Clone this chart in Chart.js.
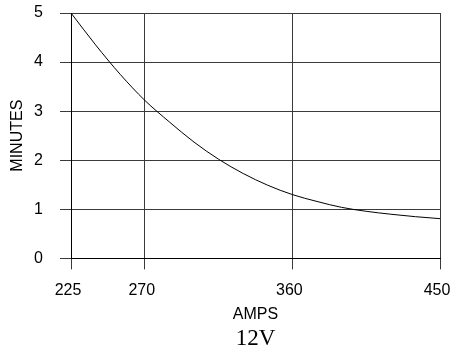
<!DOCTYPE html>
<html>
<head>
<meta charset="utf-8">
<script src="https://cdn.jsdelivr.net/npm/chart.js@4"></script>
<style>
html,body{margin:0;padding:0;background:#fff}
</style>
</head>
<body>
<canvas id="chart" width="452" height="356"></canvas>
<script>
// data
const amps=[225,240,255,270,285,300,315,330,345,360,375,390,405,420,435,450];
const minutes=[5.0,4.35,3.75,3.22,2.78,2.37,2.02,1.73,1.49,1.30,1.16,1.04,0.96,0.90,0.85,0.81];
const xTicks=[225,270,360,450];
const yTicks=[0,1,2,3,4,5];

const sans="'Liberation Sans', Arial, sans-serif";
const gridColor="#3a3a3a";

new Chart(document.getElementById("chart"),{
type:"line",
data:{
datasets:[{
data:amps.map((a,i)=>({x:a,y:minutes[i]})),
borderColor:"#000",
borderWidth:1,
pointRadius:0,
fill:false,
cubicInterpolationMode:"monotone"
}]
},
options:{
responsive:false,
animation:false,
layout:{padding:{top:13,right:12,left:0,bottom:0}},
plugins:{
legend:{display:false},
tooltip:{enabled:false},
title:{
display:true,
position:"bottom",
fullSize:false,
text:"12V",
color:"#000",
font:{family:"'Liberation Serif', 'Times New Roman', serif",size:23,weight:"normal"},
padding:{top:0,bottom:3}
}
},
scales:{
x:{
type:"linear",
min:225,max:450,
afterBuildTicks:s=>{s.ticks=xTicks.map(v=>({value:v}));},
afterFit:s=>{s.height=67;s.paddingLeft=0;s.paddingRight=0;},
grid:{color:gridColor,lineWidth:1,tickLength:11,tickColor:gridColor},
border:{display:true,color:"#000"},
ticks:{color:"#000",font:{family:sans,size:16},padding:12,labelOffset:-3,maxRotation:0},
title:{display:true,text:"AMPS",color:"#000",font:{family:sans,size:16},padding:{top:0,bottom:1}}
},
y:{
min:0,max:5,
afterBuildTicks:s=>{s.ticks=yTicks.map(v=>({value:v}));},
afterFit:s=>{s.width=71;s.paddingTop=0;s.paddingBottom=0;},
grid:{color:gridColor,lineWidth:1,tickLength:11,tickColor:gridColor},
border:{display:true,color:"#000"},
ticks:{color:"#000",font:{family:sans,size:16},padding:17},
title:{display:true,text:"MINUTES",color:"#000",font:{family:sans,size:16},padding:{top:8,bottom:0}}
}
}
}
});
</script>
</body>
</html>
